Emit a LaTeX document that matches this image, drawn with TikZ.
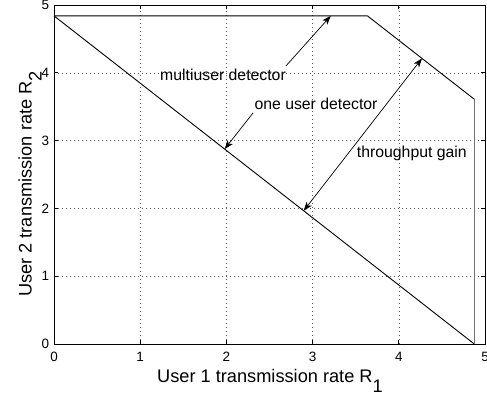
\documentclass[tikz,border=0pt]{standalone}
\usepackage{fontspec}
\setmainfont{Liberation Sans}
\usetikzlibrary{arrows.meta, calc}
\colorlet{gridgray}{black!65}
\tikzset{
  gridline/.style={gridgray, line width=0.6pt, dash pattern=on 0.7pt off 3.3pt},
  axisline/.style={black, line width=0.9pt},
  rateline/.style={black, line width=0.9pt},
  ticklabel/.style={font=\fontsize{13.5}{14}\selectfont, inner sep=0pt},
  notelabel/.style={font=\fontsize{15.8}{17}\selectfont, inner sep=0pt, anchor=base west},
  axislabel/.style={font=\fontsize{18.2}{20}\selectfont, inner sep=0pt, anchor=base west},
  notearrow/.style={-{Stealth[length=9pt, width=6.5pt, inset=2.5pt]}, line width=0.7pt},
}
\newcommand{\xtic}[1]{%
  \draw[gridline] (#1,0) -- (#1,5);
  \draw[axisline] (#1,0) -- ([yshift=4pt]#1,0);
  \draw[axisline] (#1,5) -- ([yshift=-4pt]#1,5);
  \node[ticklabel, anchor=north] (xt#1) at ([yshift=-7.5pt]#1,0) {#1};}
\newcommand{\ytic}[1]{%
  \draw[gridline] (0,#1) -- (5,#1);
  \draw[axisline] (0,#1) -- ([xshift=4pt]0,#1);
  \draw[axisline] (5,#1) -- ([xshift=-4pt]5,#1);
  \node[ticklabel, anchor=east] (yt#1) at ([xshift=-4.7pt]0,#1) {#1};}
\newcommand{\lowsub}[1]{\raisebox{-10pt}{#1}}

\begin{document}
\begin{tikzpicture}[x=86.2pt, y=67.8pt]
    \useasboundingbox (-0.6265,-0.708) rectangle (5.023,5.074);
    % grid, ticks and tick labels
    \xtic{0} \xtic{1} \xtic{2} \xtic{3} \xtic{4} \xtic{5}
    \ytic{0} \ytic{1} \ytic{2} \ytic{3} \ytic{4} \ytic{5}
    % one user detector region
    \coordinate (s0) at (0,4.84);
    \coordinate (s1) at (4.876,0);
    \draw[rateline] (s0) -- (s1);
    % multiuser detector region
    \coordinate (m0) at (0,4.84);
    \coordinate (m1) at (3.636,4.84);
    \coordinate (m2) at (4.876,3.61);
    \coordinate (m3) at (4.876,0);
    \draw[rateline] (m0) -- (m1) -- (m2);
    \draw[black!55, line width=1.3pt] (m2) -- (m3);
    % axes box
    \draw[axisline] (0,0) rectangle (5,5);
    \node[axislabel] (xlab) at (1.195,-0.571) {User 1 transmission rate R\lowsub{1}};
    \node[axislabel, rotate=90] (ylab) at (-0.259,0.693) {User 2 transmission rate R\lowsub{2}};
    % annotations
    \node[notelabel] (multi) at (1.230,3.883) {multiuser detector};
    \node[notelabel] (single) at (2.324,3.466) {one user detector};
    \node[notelabel] (gain) at (3.512,2.754) {throughput gain};
    \coordinate (multitail) at (2.69,4.10);
    \coordinate (multitip) at ($(m0)!0.883!(m1)$);
    \coordinate (singletail) at (2.31,3.41);
    \coordinate (singletip) at ($(s0)!0.406!(s1)$);
    \coordinate (gainlow) at ($(s0)!0.594!(s1)$);
    \coordinate (gainhigh) at ($(m1)!0.51!(m2)$);
    \draw[notearrow] (multitail) -- (multitip);
    \draw[notearrow] (singletail) -- (singletip);
    \draw[notearrow, {Stealth[length=9pt, width=6.5pt, inset=2.5pt]}-{Stealth[length=9pt, width=6.5pt, inset=2.5pt]}] (gainlow) -- (gainhigh);
\end{tikzpicture}
\end{document}
